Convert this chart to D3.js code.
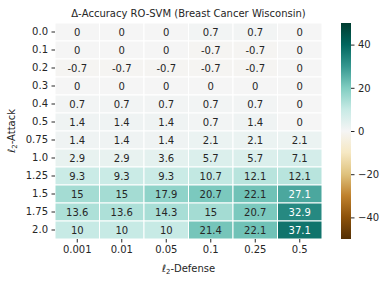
<!DOCTYPE html>
<html>
<head>
<meta charset="utf-8">
<script src="https://cdn.jsdelivr.net/npm/d3@7"></script>
<style>
  body { margin: 0; background: #fff; }
  svg { font-family: 'DejaVu Sans', sans-serif; }
</style>
</head>
<body>
<div id="chart"></div>
<script>
const attacks = ['0.0', '0.1', '0.2', '0.3', '0.4', '0.5', '0.75', '1.0', '1.25', '1.5', '1.75', '2.0'];
const defenses = ['0.001', '0.01', '0.05', '0.1', '0.25', '0.5'];
const values = [
	[0, 0, 0, 0.7, 0.7, 0],
	[0, 0, 0, -0.7, -0.7, 0],
	[-0.7, -0.7, -0.7, -0.7, -0.7, 0],
	[0, 0, 0, 0, 0, 0],
	[0.7, 0.7, 0.7, 0.7, 0.7, 0],
	[1.4, 1.4, 1.4, 0.7, 1.4, 0],
	[1.4, 1.4, 1.4, 2.1, 2.1, 2.1],
	[2.9, 2.9, 3.6, 5.7, 5.7, 7.1],
	[9.3, 9.3, 9.3, 10.7, 12.1, 12.1],
	[15, 15, 17.9, 20.7, 22.1, 27.1],
	[13.6, 13.6, 14.3, 15, 20.7, 32.9],
	[10, 10, 10, 21.4, 22.1, 37.1]
];
const colorTicks = [-40, -20, 0, 20, 40];
// matplotlib BrBG (linear segments between the ColorBrewer colours)
const brbg = ['#543005', '#8c510a', '#bf812d', '#dfc27d', '#f6e8c3', '#f5f5f5', '#c7eae5', '#80cdc1', '#35978f', '#01665e', '#003c30'];

const W = 385, H = 282;
const plot = {left: 55, top: 23, right: 322, bottom: 239};
const cbar = {left: 341, right: 351};

const svg = d3.select('#chart').append('svg')
	.attr('width', W)
	.attr('height', H);

const x = d3.scaleBand().domain(defenses).range([plot.left, plot.right]);
const y = d3.scaleBand().domain(attacks).range([plot.top, plot.bottom]);
const color = d3.scaleLinear()
	.domain(d3.range(brbg.length).map(i => -50 + 100 * i / (brbg.length - 1)))
	.range(brbg)
	.interpolate(d3.interpolateRgb)
	.clamp(true);

const cells = [];
values.forEach((row, i) => row.forEach((v, j) => cells.push({a: attacks[i], d: defenses[j], v})));

svg.append('g').selectAll('rect')
	.data(cells)
	.enter().append('rect')
	.attr('x', d => x(d.d))
	.attr('y', d => y(d.a))
	.attr('width', x.bandwidth())
	.attr('height', y.bandwidth())
	.attr('fill', d => color(d.v))
	.attr('stroke', 'white')
	.attr('stroke-width', 1);

// text colour like seaborn: based on luminance
const lum = c => {
	const rgb = d3.rgb(c);
	const f = u => { u /= 255; return u <= 0.03928 ? u / 12.92 : Math.pow((u + 0.055) / 1.055, 2.4); };
	return 0.2126 * f(rgb.r) + 0.7152 * f(rgb.g) + 0.0722 * f(rgb.b);
};

svg.append('g').selectAll('text')
	.data(cells)
	.enter().append('text')
	.attr('x', d => x(d.d) + x.bandwidth() / 2)
	.attr('y', d => y(d.a) + y.bandwidth() / 2)
	.attr('dy', '0.35em')
	.attr('text-anchor', 'middle')
	.attr('font-size', 10)
	.attr('fill', d => lum(color(d.v)) > 0.408 ? '#262626' : '#ffffff')
	.text(d => d.v);

const xAxis = svg.append('g')
	.attr('transform', `translate(0,${plot.bottom})`)
	.call(d3.axisBottom(x).tickSize(3.5).tickPadding(3.5));
const yAxis = svg.append('g')
	.attr('transform', `translate(${plot.left},0)`)
	.call(d3.axisLeft(y).tickSize(3.5).tickPadding(3.5));
[xAxis, yAxis].forEach(g => {
	g.select('.domain').remove();
	g.selectAll('text').attr('font-size', 10).attr('fill', '#262626').attr('font-family', 'DejaVu Sans');
	g.selectAll('line').attr('stroke', '#262626');
});

// title
svg.append('text')
	.attr('x', (plot.left + plot.right) / 2)
	.attr('y', 17)
	.attr('text-anchor', 'middle')
	.attr('font-size', 10)
	.attr('fill', '#262626')
	.text('\u0394-Accuracy RO-SVM (Breast Cancer Wisconsin)');

// axis labels
const xl = svg.append('text')
	.attr('x', (plot.left + plot.right) / 2)
	.attr('y', 272)
	.attr('text-anchor', 'middle')
	.attr('font-size', 10)
	.attr('fill', '#262626');
xl.append('tspan').attr('font-style', 'italic').text('\u2113');
xl.append('tspan').attr('font-size', 7).attr('dy', 2).text('2');
xl.append('tspan').attr('dy', -2).text('-Defense');

const yl = svg.append('text')
	.attr('transform', `translate(15,${(plot.top + plot.bottom) / 2}) rotate(-90)`)
	.attr('text-anchor', 'middle')
	.attr('font-size', 10)
	.attr('fill', '#262626');
yl.append('tspan').attr('font-style', 'italic').text('\u2113');
yl.append('tspan').attr('font-size', 7).attr('dy', 2).text('2');
yl.append('tspan').attr('dy', -2).text('-Attack');

// colorbar
const defs = svg.append('defs');
const grad = defs.append('linearGradient')
	.attr('id', 'cbar')
	.attr('x1', 0).attr('y1', 1).attr('x2', 0).attr('y2', 0);
brbg.forEach((c, i) => {
	grad.append('stop').attr('offset', i / (brbg.length - 1)).attr('stop-color', c);
});
const cy = d3.scaleLinear().domain([-50, 50]).range([plot.bottom, plot.top]);
svg.append('rect')
	.attr('x', cbar.left)
	.attr('y', plot.top)
	.attr('width', cbar.right - cbar.left)
	.attr('height', plot.bottom - plot.top)
	.attr('fill', 'url(#cbar)');
const cAxis = svg.append('g')
	.attr('transform', `translate(${cbar.right},0)`)
	.call(d3.axisRight(cy).tickValues(colorTicks).tickSize(3.5).tickPadding(3.5).tickFormat(d => d < 0 ? '\u2212' + Math.abs(d) : d));
cAxis.select('.domain').remove();
cAxis.selectAll('text').attr('font-size', 10).attr('fill', '#262626').attr('font-family', 'DejaVu Sans');
cAxis.selectAll('line').attr('stroke', '#262626');
</script>
</body>
</html>
